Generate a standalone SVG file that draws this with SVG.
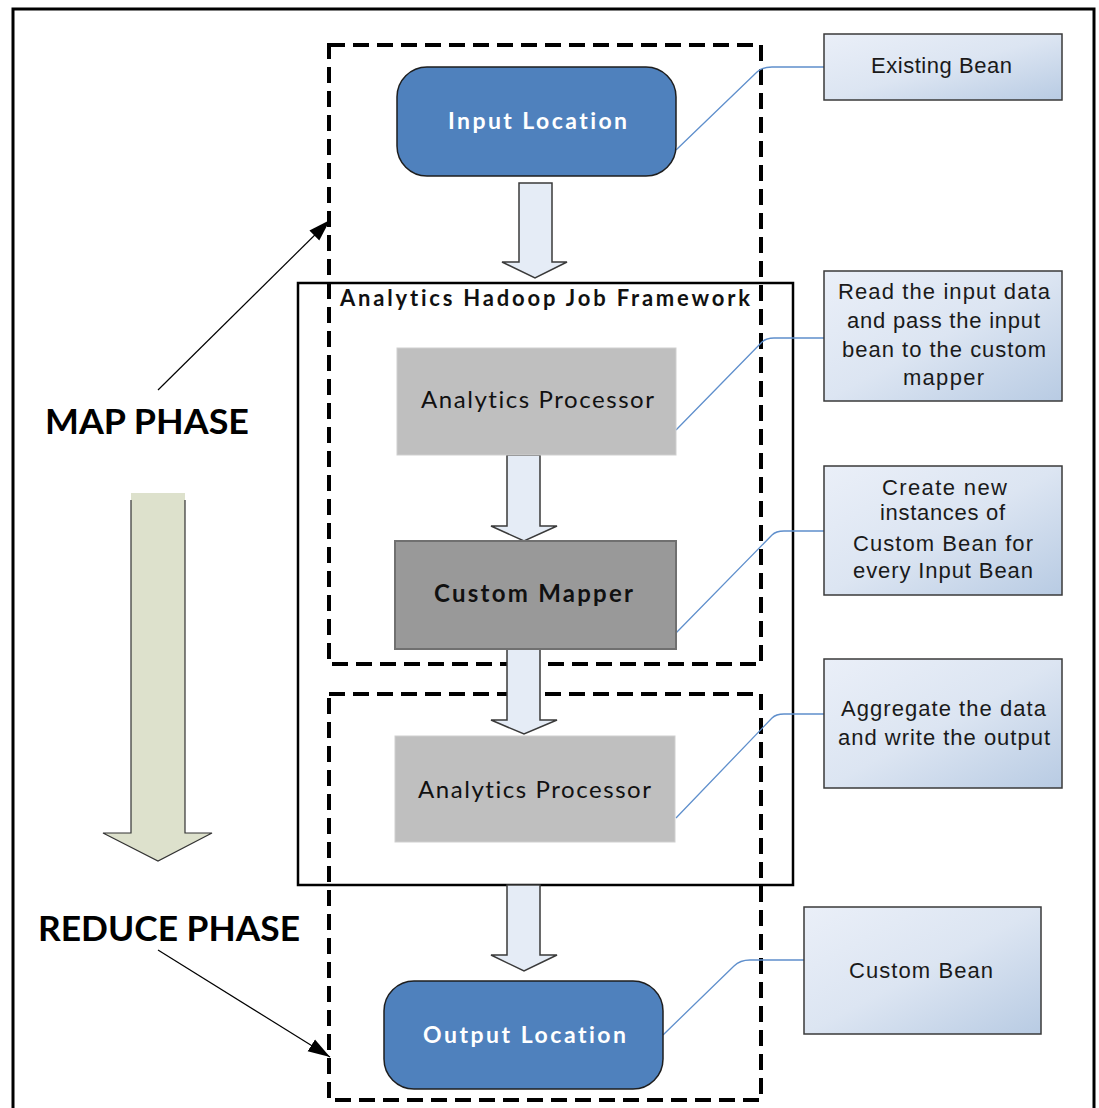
<svg xmlns="http://www.w3.org/2000/svg" width="1099" height="1108" viewBox="0 0 1099 1108">
<defs>
<linearGradient id="noteGrad" x1="0" y1="0" x2="1" y2="1">
<stop offset="0" stop-color="#EAEFF8"/>
<stop offset="0.5" stop-color="#DCE5F2"/>
<stop offset="1" stop-color="#B8CBE3"/>
</linearGradient>
<marker id="ah" markerUnits="userSpaceOnUse" markerWidth="26" markerHeight="18" refX="22" refY="8" orient="auto">
<path d="M0,1 L22,8 L0,15 z" fill="#000"/>
</marker>
<style>
text{font-variant-ligatures:none}
.frame{fill:none;stroke:#000;stroke-width:3}
.dash{fill:none;stroke:#000;stroke-width:4;stroke-dasharray:16 8}
.fw{fill:none;stroke:#000;stroke-width:2.5}
.loc{fill:#4F81BD;stroke:#1E1E1E;stroke-width:1.5}
.ap{fill:#BFBFBF;stroke:#CFCFCF;stroke-width:1}
.cm{fill:#999999;stroke:#707070;stroke-width:2}
.note{fill:url(#noteGrad);stroke:#3A3A3A;stroke-width:1.5}
.barrow{fill:#E5ECF6;stroke:#3A3A3A;stroke-width:1.5}
.conn{fill:none;stroke:#5F8FCC;stroke-width:1.3}
.ph{fill:none;stroke:#000;stroke-width:1.2}
.tl{font-family:Lato,"Liberation Sans",sans-serif;font-weight:bold;fill:#fff;font-size:23px;text-anchor:middle}
.tn{font-family:Lato,"Liberation Sans",sans-serif;fill:#111;font-size:24px;text-anchor:middle}
.tb{font-family:Lato,"Liberation Sans",sans-serif;font-weight:bold;fill:#111;font-size:24px;text-anchor:middle}
.tt{font-family:Lato,"Liberation Sans",sans-serif;font-weight:bold;fill:#111;font-size:22px}
.tp{font-family:Lato,"Liberation Sans",sans-serif;font-weight:bold;fill:#000;font-size:34px}
.tx{font-family:"Liberation Sans",Arial,sans-serif;fill:#1A1A1A;font-size:22px;text-anchor:middle}
</style>
</defs>
<rect width="1099" height="1108" fill="#fff"/>
<rect class="frame" x="13" y="9" width="1081" height="1112"/>

<g id="phase-arrow">
<polygon points="131,493 185,493 185,833 212,833 158,861 103,833 131,833" fill="#DDE1CC"/>
<path d="M131,500 L131,833 L103,833 L158,861 L212,833 L185,833 L185,500" fill="none" stroke="#333" stroke-width="1.2"/>
</g>

<g id="map-phase">
<text class="tp" x="45" y="434" textLength="204" lengthAdjust="spacingAndGlyphs">MAP PHASE</text>
</g>
<g id="reduce-phase">
<text class="tp" x="38" y="941" textLength="262" lengthAdjust="spacingAndGlyphs">REDUCE PHASE</text>
</g>

<g id="framework">
<rect class="fw" x="298" y="283" width="495" height="602"/>
<text class="tt" x="340" y="306" textLength="410" lengthAdjust="spacing">Analytics Hadoop Job Framework</text>
</g>

<g id="map-group">
<rect class="dash" x="329" y="45" width="432" height="619"/>
</g>
<g id="reduce-group">
<rect class="dash" x="329" y="694" width="432" height="406"/>
</g>

<g id="connectors">
<polygon class="barrow" points="519,183 552,183 552,262 567,262 535,278 502,262 519,262"/>
<polygon class="barrow" points="507,455 540,455 540,526 557,526 524,541 491,526 507,526"/>
<polygon class="barrow" points="507,649 540,649 540,720 557,720 524,734 491,720 507,720"/>
<polygon class="barrow" points="507,885 540,885 540,955 557,955 524,971 491,955 507,955"/>
<path class="ph" d="M158,390 L330,220" marker-end="url(#ah)"/>
<path class="ph" d="M158,950 L330,1057" marker-end="url(#ah)"/>
<path class="conn" d="M676,150 L757,72 Q762,67 772,67 L824,67"/>
<path class="conn" d="M676,430 L762,342 Q766,338 774,338 L824,338"/>
<path class="conn" d="M676,633 L772,535 Q776,531 784,531 L824,531"/>
<path class="conn" d="M676,818 L772,718 Q776,714 784,714 L824,714"/>
<path class="conn" d="M663,1035 L734,966 Q740,960 750,960 L804,960"/>
</g>

<g id="input-location">
<rect class="loc" x="397" y="67" width="279" height="109" rx="30"/>
<text class="tl" x="537.5" y="129" textLength="179" lengthAdjust="spacing">Input Location</text>
</g>
<g id="analytics-processor-1">
<rect class="ap" x="397" y="348" width="279" height="107"/>
<text class="tn" x="537.5" y="408" textLength="233" lengthAdjust="spacing">Analytics Processor</text>
</g>
<g id="custom-mapper">
<rect class="cm" x="395" y="541" width="281" height="108"/>
<text class="tb" x="533.5" y="602" textLength="199" lengthAdjust="spacing">Custom Mapper</text>
</g>
<g id="analytics-processor-2">
<rect class="ap" x="395" y="736" width="280" height="106"/>
<text class="tn" x="534.5" y="798" textLength="233" lengthAdjust="spacing">Analytics Processor</text>
</g>
<g id="output-location">
<rect class="loc" x="384" y="981" width="279" height="108" rx="30"/>
<text class="tl" x="524.5" y="1043" textLength="203" lengthAdjust="spacing">Output Location</text>
</g>

<g id="note-existing-bean">
<rect class="note" x="824" y="34" width="238" height="66"/>
<text class="tx" x="941.5" y="73" textLength="141" lengthAdjust="spacing">Existing Bean</text>
</g>
<g id="note-read">
<rect class="note" x="824" y="271" width="238" height="130"/>
<text class="tx" x="944" y="299" textLength="212" lengthAdjust="spacing">Read the input data</text>
<text class="tx" x="943.5" y="328" textLength="193" lengthAdjust="spacing">and pass the input</text>
<text class="tx" x="944" y="357" textLength="204" lengthAdjust="spacing">bean to the custom</text>
<text class="tx" x="943.5" y="385" textLength="81" lengthAdjust="spacing">mapper</text>
</g>
<g id="note-create">
<rect class="note" x="824" y="466" width="238" height="129"/>
<text class="tx" x="944.5" y="495" textLength="125" lengthAdjust="spacing">Create new</text>
<text class="tx" x="942.5" y="520" textLength="125" lengthAdjust="spacing">instances of</text>
<text class="tx" x="943" y="551" textLength="180" lengthAdjust="spacing">Custom Bean for</text>
<text class="tx" x="943" y="578" textLength="180" lengthAdjust="spacing">every Input Bean</text>
</g>
<g id="note-aggregate">
<rect class="note" x="824" y="659" width="238" height="129"/>
<text class="tx" x="943.5" y="716" textLength="205" lengthAdjust="spacing">Aggregate the data</text>
<text class="tx" x="944" y="745" textLength="212" lengthAdjust="spacing">and write the output</text>
</g>
<g id="note-custom-bean">
<rect class="note" x="804" y="907" width="237" height="127"/>
<text class="tx" x="921" y="978" textLength="144" lengthAdjust="spacing">Custom Bean</text>
</g>
</svg>
